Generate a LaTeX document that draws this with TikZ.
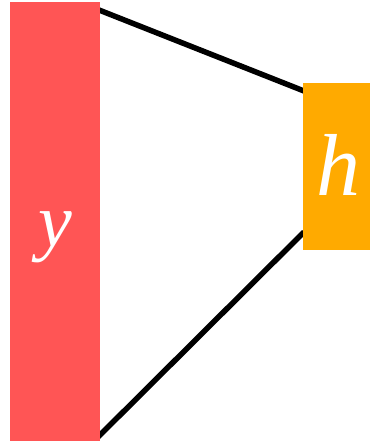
\documentclass[tikz,border=0pt]{standalone}
\usepackage{fontspec}
\setmainfont{Liberation Serif}
\definecolor{redbar}{HTML}{FF5555}
\definecolor{orangebar}{HTML}{FFAA00}
\begin{document}
\begin{tikzpicture}[x=1pt,y=-1pt,
  bar/.style={draw=none,inner sep=0pt,outer sep=0pt},
  conn/.style={line width=5.5pt,black},
  lbl/.style={text=white,font=\fontsize{88}{90}\selectfont\itshape,inner sep=0pt,anchor=base}]
\useasboundingbox (0,0) rectangle (370,444);
\coordinate (ytop) at (99,10);
\coordinate (ybot) at (97,438);
\coordinate (htop) at (304,91);
\coordinate (hbot) at (304,232);
\draw[conn] (ytop) -- (htop);
\draw[conn] (ybot) -- (hbot);
\node[bar,fill=redbar,minimum width=90pt,minimum height=439pt] (y) at (55,221.5) {};
\node[bar,fill=orangebar,minimum width=67pt,minimum height=167pt] (h) at (336.5,166.5) {};
\node[lbl,font=\fontsize{76}{78}\selectfont\itshape] (ylbl) at (55,246) {y};
\node[lbl] (hlbl) at (338,195) {h};
\end{tikzpicture}
\end{document}
